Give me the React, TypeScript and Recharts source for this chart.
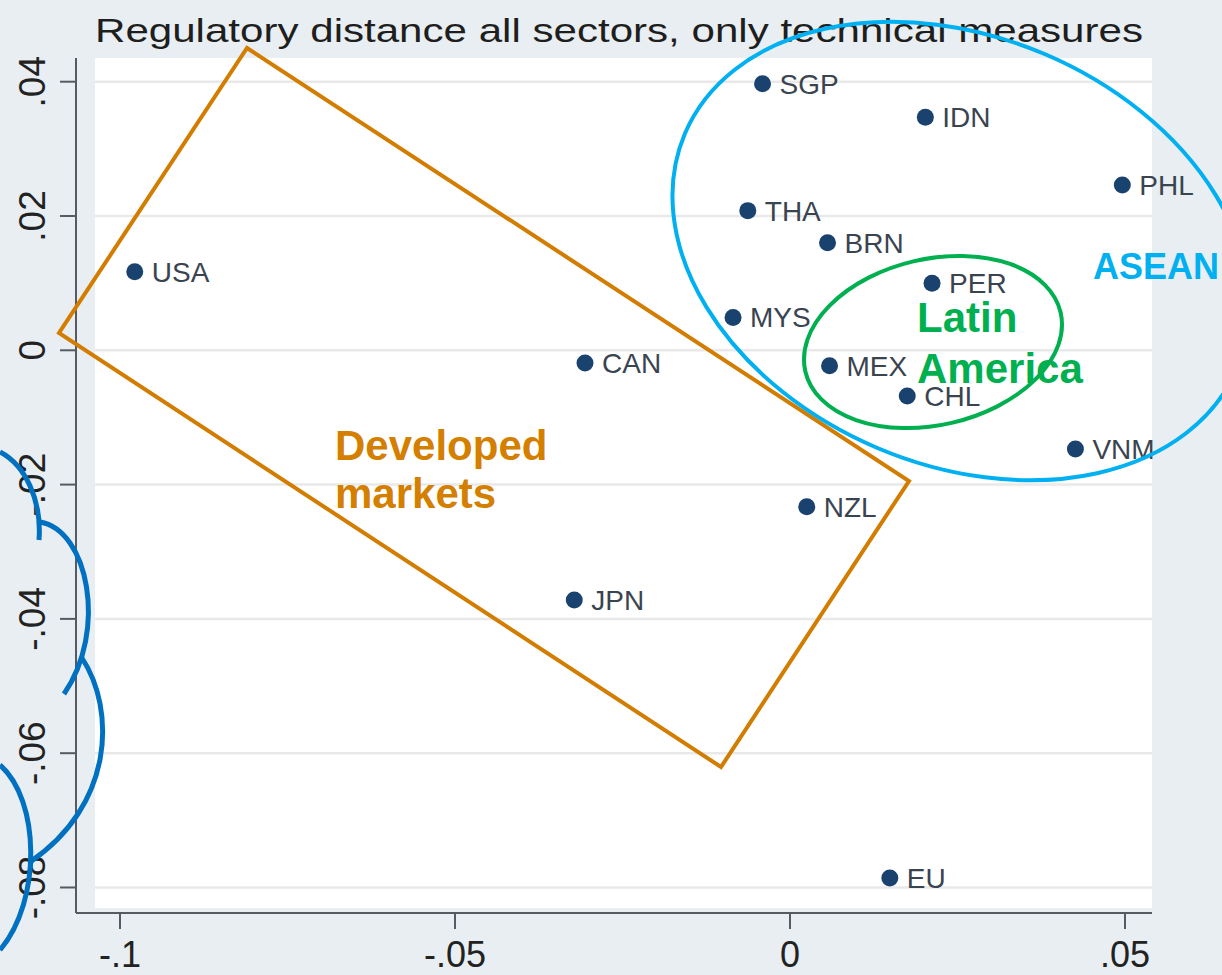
import { ScatterChart, Scatter, XAxis, YAxis, ReferenceArea, ReferenceLine } from 'recharts'

const FONT = '"Liberation Sans", Arial, Helvetica, sans-serif'

// regulatory distance coordinates
const countries = ['SGP', 'IDN', 'PHL', 'THA', 'BRN', 'PER', 'MYS', 'MEX', 'CHL', 'VNM', 'USA', 'CAN', 'NZL', 'JPN', 'EU']
const distX = [-0.0041, 0.0202, 0.0496, -0.0063, 0.0056, 0.0212, -0.0085, 0.0059, 0.0175, 0.0426, -0.0978, -0.0306, 0.0025, -0.0322, 0.0149]
const distY = [0.0397, 0.0347, 0.0246, 0.0208, 0.016, 0.01, 0.0049, -0.0023, -0.0068, -0.0147, 0.0117, -0.0019, -0.0233, -0.0372, -0.0786]

const xTicks = [-0.1, -0.05, 0, 0.05]
const xTickLabels = ['-.1', '-.05', '0', '.05']
const yTicks = [0.04, 0.02, 0, -0.02, -0.04, -0.06, -0.08]
const yTickLabels = ['.04', '.02', '0', '-.02', '-.04', '-.06', '-.08']

const X_DOMAIN: [number, number] = [-0.10657, 0.05403]
const Y_DOMAIN: [number, number] = [-0.0838, 0.04353]
const PLOT_LEFT = -0.10373
const PLOT_BOTTOM = -0.08305

const points = countries.map((name, i) => ({ name, x: distX[i], y: distY[i] }))

function label(ticks: number[], labels: string[], v: number) {
  const i = ticks.findIndex(t => Math.abs(t - v) < 1e-9)
  return i >= 0 ? labels[i] : String(v)
}

function XTick(props: any) {
  const { x, y, payload } = props
  return (
    <text x={x} y={y + 36} textAnchor="middle" fontSize={36} fill="#222" fontFamily={FONT}>
      {label(xTicks, xTickLabels, payload.value)}
    </text>
  )
}

function YTick(props: any) {
  const { x, y, payload } = props
  const bx = x - 13
  return (
    <text
      x={bx}
      y={y}
      transform={`rotate(-90 ${bx} ${y})`}
      textAnchor="middle"
      fontSize={37}
      fill="#222"
      fontFamily={FONT}
    >
      {label(yTicks, yTickLabels, payload.value)}
    </text>
  )
}

function CountryDot(props: any) {
  const { cx, cy, payload } = props
  return (
    <g>
      <circle cx={cx} cy={cy} r={8.5} fill="#1a426e" />
      <text x={cx + 17} y={cy + 10} fontSize={28} fill="#3a4450" fontFamily={FONT}>
        {payload.name}
      </text>
    </g>
  )
}

// hand-drawn slide annotations on top of the graph
function Annotations() {
  return (
    <svg
      width={1222}
      height={975}
      style={{ position: 'absolute', left: 0, top: 0, pointerEvents: 'none' }}
      fontFamily={FONT}
    >
      <text x={95} y={42} fontSize={33} textLength={1048} lengthAdjust="spacingAndGlyphs" fill="#1e1e1e">
        Regulatory distance all sectors, only technical measures
      </text>
      <polygon points="247,48 909,481 721,767 59,333" fill="none" stroke="#d27d00" strokeWidth={4} />
      <ellipse cx={961} cy={251} rx={300} ry={214} transform="rotate(23 961 251)" fill="none" stroke="#00b0f0" strokeWidth={4} />
      <ellipse cx={933} cy={342} rx={131} ry={83} transform="rotate(-13 933 342)" fill="none" stroke="#00b050" strokeWidth={4} />
      <g fill="none" stroke="#0070c0" strokeWidth={5}>
        <path d="M 0 452 C 25 465, 42 500, 39 540" />
        <path d="M 40 522 C 88 530, 108 630, 64 694" />
        <path d="M 82 658 C 116 710, 114 805, 30 862" />
        <path d="M 0 765 C 40 800, 42 900, 0 950" />
      </g>
      <g fontWeight="bold">
        <text x={335} y={460} fontSize={42} fill="#d47f00">Developed</text>
        <text x={335} y={508} fontSize={42} fill="#d47f00">markets</text>
        <text x={917} y={332} fontSize={42} fill="#00b050">Latin</text>
        <text x={917} y={383} fontSize={42} fill="#00b050">America</text>
        <text x={1093} y={279} fontSize={36} fill="#00b0f0">ASEAN</text>
      </g>
    </svg>
  )
}

export default function App() {
  return (
    <div style={{ position: 'absolute', left: 0, top: 0, width: 1222, height: 975, background: '#e8eef1', overflow: 'hidden' }}>
      <ScatterChart width={1222} height={975} margin={{ top: 58, right: 70, bottom: 0, left: 0 }}>
        <XAxis
          type="number"
          dataKey="x"
          domain={X_DOMAIN}
          ticks={xTicks}
          height={62}
          tickSize={16}
          axisLine={{ stroke: '#555b60', strokeWidth: 2 }}
          tickLine={{ stroke: '#555b60', strokeWidth: 2 }}
          tick={<XTick />}
        />
        <YAxis
          type="number"
          dataKey="y"
          domain={Y_DOMAIN}
          ticks={yTicks}
          width={76}
          tickSize={16}
          axisLine={{ stroke: '#555b60', strokeWidth: 2 }}
          tickLine={{ stroke: '#555b60', strokeWidth: 2 }}
          tick={<YTick />}
        />
        <ReferenceArea x1={PLOT_LEFT} x2={X_DOMAIN[1]} y1={PLOT_BOTTOM} y2={Y_DOMAIN[1]} fill="#ffffff" fillOpacity={1} stroke="none" />
        {yTicks.map(t => (
          <ReferenceLine
            key={t}
            segment={[{ x: PLOT_LEFT, y: t }, { x: X_DOMAIN[1], y: t }]}
            stroke="#e9e9e9"
            strokeWidth={2.5}
          />
        ))}
        <Scatter data={points} shape={<CountryDot />} isAnimationActive={false} />
      </ScatterChart>
      <Annotations />
    </div>
  )
}
